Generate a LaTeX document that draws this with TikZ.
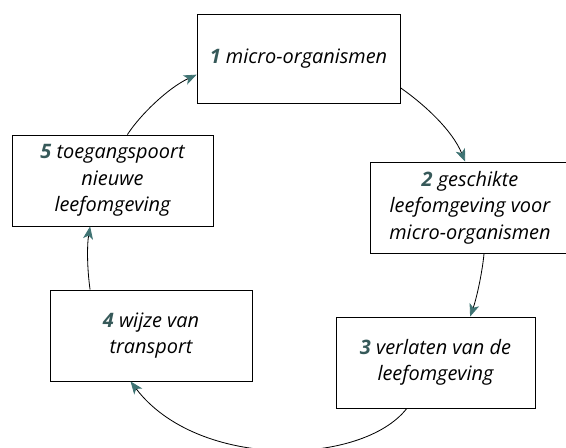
\documentclass[tikz,border=0pt]{standalone}
\usepackage{fontspec}
\setmainfont{Open Sans}
\usepackage{tikz}
\usetikzlibrary{arrows.meta}
\colorlet{pijl teal}{teal!45!gray!90!black}
\colorlet{nummer teal}{teal!40!gray!70!black}
\tikzstyle{stap} = [draw,line width=.7pt,rectangle,inner sep=1mm,align=center,
    font=\fontsize{17}{22.5}\selectfont\itshape]
\tikzstyle{kring pijl}=[line width=.7pt,-{Stealth[length=3.8mm,width=3mm,inset=1mm,color=pijl teal]}]
\newcommand{\nr}[1]{{\color{nummer teal}\bfseries #1}}

\begin{document}
\begin{tikzpicture}[x=0.03cm,y=-0.03cm]
        \useasboundingbox (0,0) rectangle (566,447);

        \node[stap,minimum width=6.09cm,minimum height=2.67cm] (s1) at (298.5,58.5) {\nr{1} micro-organismen};
        \node[stap,minimum width=6cm,minimum height=2.73cm] (s2) at (470,207.5) {\nr{2} geschikte\\leefomgeving voor\\micro-organismen};
        \node[stap,minimum width=5.97cm,minimum height=2.73cm] (s3) at (435.5,362.5) {\nr{3} verlaten van de\\leefomgeving};
        \node[stap,minimum width=6.06cm,minimum height=2.73cm] (s4) at (151,335.5) {\nr{4} wijze van\\transport};
        \node[stap,minimum width=6.03cm,minimum height=2.73cm] (s5) at (112.5,180.5) {\nr{5} toegangspoort\\nieuwe\\leefomgeving};

        \draw[kring pijl] (s1.-16) .. controls (425,105) and (452,130) .. (s2.96);
        \draw[kring pijl] (s2.-73) .. controls (482,275) and (476,300) .. (s3.53);
        \draw[kring pijl] (s3.-122) .. controls (362,466) and (198,470) .. (s4.-114);
        \draw[kring pijl] (s4.143) .. controls (87,268) and (87,245) .. (s5.-116);
        \draw[kring pijl] (s5.72) .. controls (140,115) and (168,88) .. (s1.-171);
    \end{tikzpicture}
\end{document}
